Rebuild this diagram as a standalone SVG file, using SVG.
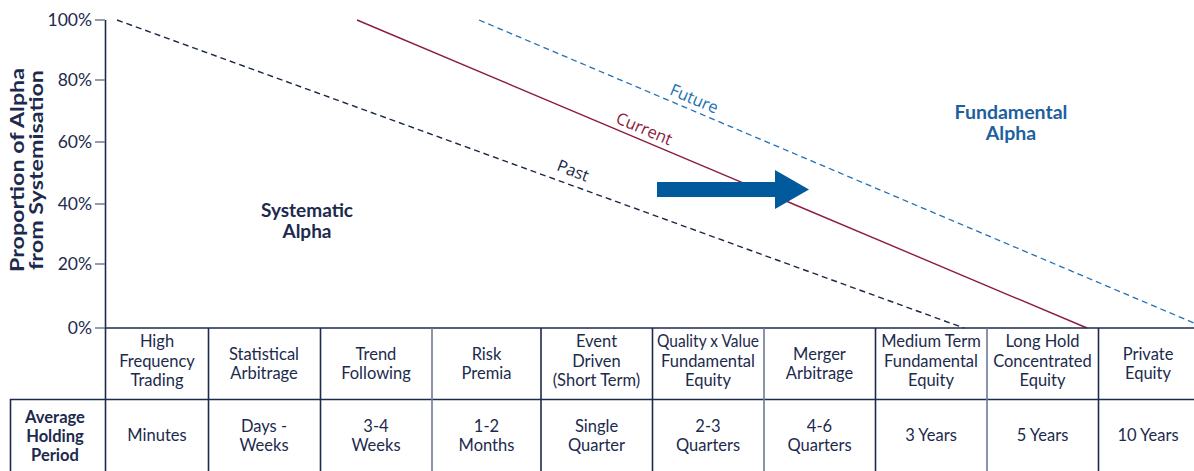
<svg xmlns="http://www.w3.org/2000/svg" width="1194" height="471" viewBox="0 0 1194 471">
<style>
.t{font-family:Lato,"Liberation Sans",sans-serif;font-size:16.5px;fill:#1c2a4d;text-anchor:middle}
.b{font-weight:bold}
.tick{font-family:Lato,"Liberation Sans",sans-serif;font-size:17.5px;fill:#1c2a4d;text-anchor:end}
.lbl{font-family:"Open Sans","Liberation Sans",sans-serif;font-size:16.5px;text-anchor:middle}
.grid{stroke:#1c2a4d;stroke-width:1.6;fill:none}
.gridg{stroke:#6d7a96;stroke-width:1.6;fill:none}
.tk{stroke:#7a8598;stroke-width:1.6}
</style>
<rect width="1194" height="471" fill="#fff"/>
<g id="axis">
<line x1="105.5" y1="20" x2="105.5" y2="328" class="grid"/>
<line x1="95" y1="20" x2="105" y2="20" class="tk"/>
<line x1="95" y1="80" x2="105" y2="80" class="tk"/>
<line x1="95" y1="142" x2="105" y2="142" class="tk"/>
<line x1="95" y1="204" x2="105" y2="204" class="tk"/>
<line x1="95" y1="264" x2="105" y2="264" class="tk"/>
<line x1="95" y1="328" x2="105" y2="328" class="tk"/>
<text class="tick" x="92" y="26">100%</text>
<text class="tick" x="92" y="86">80%</text>
<text class="tick" x="92" y="148">60%</text>
<text class="tick" x="92" y="210">40%</text>
<text class="tick" x="92" y="270">20%</text>
<text class="tick" x="92" y="334">0%</text>
<text class="t b" transform="translate(24,170) rotate(-90)" style="font-size:18.5px" textLength="204" lengthAdjust="spacingAndGlyphs">Proportion of Alpha</text>
<text class="t b" transform="translate(43,170) rotate(-90)" style="font-size:18.5px" textLength="200" lengthAdjust="spacingAndGlyphs">from Systemisation</text>
</g>
<g id="connectors">
<line id="past" x1="117" y1="20" x2="964" y2="328" stroke="#1b2845" stroke-width="1.4" stroke-dasharray="6,4"/>
<line id="current" x1="357" y1="20" x2="1087" y2="328" stroke="#8c1d40" stroke-width="1.4"/>
<line id="future" x1="479" y1="20" x2="1194" y2="323" stroke="#2372b5" stroke-width="1.3" stroke-dasharray="6,4"/>
<path id="shift-arrow" d="M657,182 H775 V170 L809,189.5 L775,209 V197 H657 Z" fill="#005a9b"/>
</g>
<g id="line-labels">
<text class="lbl" fill="#1b2845" transform="translate(571,176) rotate(21)">Past</text>
<text class="lbl" fill="#8c1d40" transform="translate(642,134) rotate(23)">Current</text>
<text class="lbl" fill="#2372b5" transform="translate(692,104) rotate(23)">Future</text>
</g>
<g id="systematic-alpha">
<text class="t b" x="307" y="217" style="font-size:19px">Systematic</text>
<text class="t b" x="307" y="238" style="font-size:19px">Alpha</text>
</g>
<g id="fundamental-alpha">
<text class="t b" x="1011" y="119" style="font-size:19.5px;fill:#1e5f9f">Fundamental</text>
<text class="t b" x="1011" y="140" style="font-size:19.5px;fill:#1e5f9f">Alpha</text>
</g>
<g id="table">
<line x1="105" y1="328" x2="1194" y2="328" class="grid"/>
<line x1="10" y1="399.5" x2="1194" y2="399.5" class="grid"/>
<line x1="10.5" y1="399" x2="10.5" y2="471" class="grid"/>
<line x1="105.5" y1="328" x2="105.5" y2="471" class="grid"/>
<line x1="208.5" y1="328" x2="208.5" y2="471" class="grid"/>
<line x1="320.5" y1="328" x2="320.5" y2="471" class="grid"/>
<line x1="432" y1="328" x2="432" y2="471" class="gridg"/>
<line x1="541" y1="328" x2="541" y2="471" class="grid"/>
<line x1="652.5" y1="328" x2="652.5" y2="471" class="grid"/>
<line x1="764" y1="328" x2="764" y2="471" class="gridg"/>
<line x1="875.5" y1="328" x2="875.5" y2="471" class="grid"/>
<line x1="987" y1="328" x2="987" y2="471" class="gridg"/>
<line x1="1098.5" y1="328" x2="1098.5" y2="471" class="grid"/>
</g>
<g id="col-hft">
<text class="t" x="157" y="347">High</text><text class="t" x="157" y="366.5">Frequency</text><text class="t" x="157" y="386">Trading</text>
<text class="t" x="157" y="441">Minutes</text>
</g>
<g id="col-statarb">
<text class="t" x="264" y="360">Statistical</text><text class="t" x="264" y="379">Arbitrage</text>
<text class="t" x="264" y="432">Days -</text><text class="t" x="264" y="451">Weeks</text>
</g>
<g id="col-trend">
<text class="t" x="376" y="360">Trend</text><text class="t" x="376" y="379">Following</text>
<text class="t" x="376" y="432">3-4</text><text class="t" x="376" y="451">Weeks</text>
</g>
<g id="col-risk">
<text class="t" x="486.5" y="360">Risk</text><text class="t" x="486.5" y="379">Premia</text>
<text class="t" x="486.5" y="432">1-2</text><text class="t" x="486.5" y="451">Months</text>
</g>
<g id="col-event">
<text class="t" x="596.5" y="347">Event</text><text class="t" x="596.5" y="366.5">Driven</text><text class="t" x="596.5" y="386">(Short Term)</text>
<text class="t" x="596.5" y="432">Single</text><text class="t" x="596.5" y="451">Quarter</text>
</g>
<g id="col-quality">
<text class="t" x="708" y="347" textLength="102" lengthAdjust="spacingAndGlyphs">Quality x Value</text><text class="t" x="708" y="366.5">Fundamental</text><text class="t" x="708" y="386">Equity</text>
<text class="t" x="708" y="432">2-3</text><text class="t" x="708" y="451">Quarters</text>
</g>
<g id="col-merger">
<text class="t" x="819.5" y="360">Merger</text><text class="t" x="819.5" y="379">Arbitrage</text>
<text class="t" x="819.5" y="432">4-6</text><text class="t" x="819.5" y="451">Quarters</text>
</g>
<g id="col-medium">
<text class="t" x="931" y="347">Medium Term</text><text class="t" x="931" y="366.5">Fundamental</text><text class="t" x="931" y="386">Equity</text>
<text class="t" x="931" y="441">3 Years</text>
</g>
<g id="col-longhold">
<text class="t" x="1042.5" y="347">Long Hold</text><text class="t" x="1042.5" y="366.5">Concentrated</text><text class="t" x="1042.5" y="386">Equity</text>
<text class="t" x="1042.5" y="441">5 Years</text>
</g>
<g id="col-pe">
<text class="t" x="1148" y="360">Private</text><text class="t" x="1148" y="379">Equity</text>
<text class="t" x="1148" y="441">10 Years</text>
</g>
<g id="row-label">
<text class="t b" x="55" y="423">Average</text><text class="t b" x="55" y="442">Holding</text><text class="t b" x="55" y="461">Period</text>
</g>
</svg>
